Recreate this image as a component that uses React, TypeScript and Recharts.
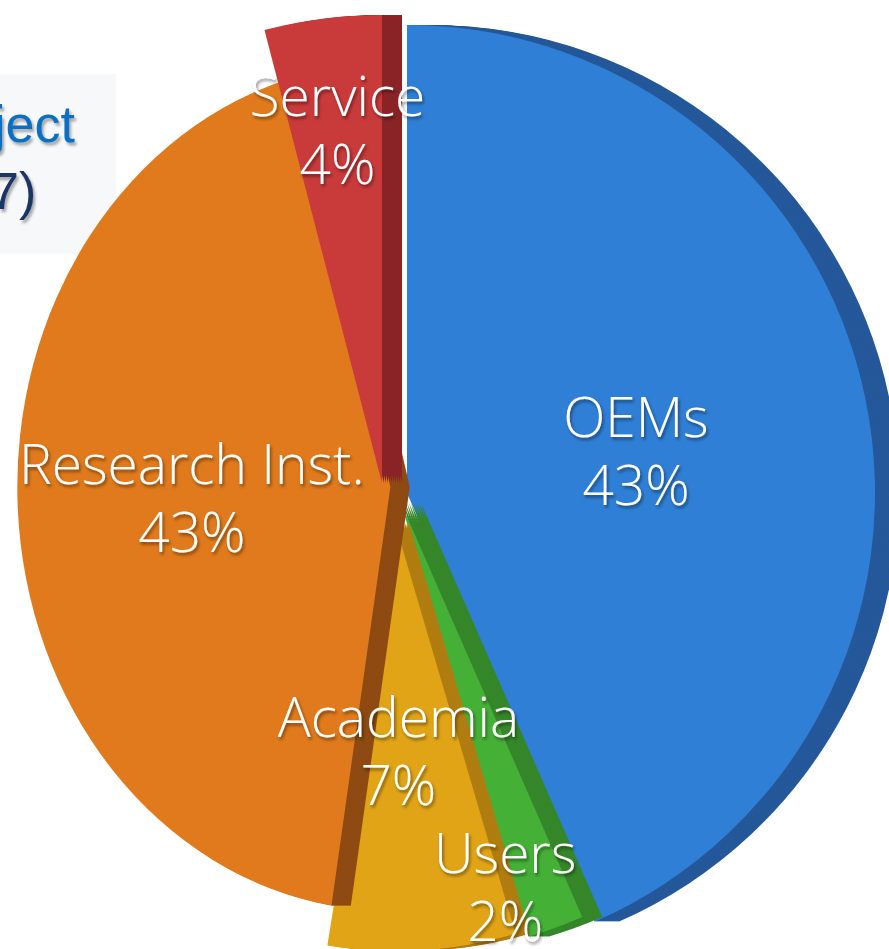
import React from "react";
import { PieChart, Pie, Cell } from "recharts";

const categories = ["OEMs", "Users", "Academia", "Research Inst.", "Service"];
const values = [43, 2, 7, 43, 4];
const percentLabels = ["43%", "2%", "7%", "43%", "4%"];
const faceColors = ["#2f7fd6", "#45b036", "#e0a416", "#e07a1c", "#c93a3a"];
const sideColors = ["#24589a", "#35872a", "#b07d10", "#8e4a12", "#8a2326"];

const data = categories.map((name, i) => ({ name, value: values[i], pct: percentLabels[i] }));

const W = 889;
const H = 949;
const PAD = 120;

// per-slice exploded geometry (centre, radius, horizontal squeeze, side depth)
const layout = [
  { cx: 402, cy: 488, r: 468, sx: 1, depth: 24 },
  { cx: 396, cy: 498, r: 452, sx: 1, depth: 20 },
  { cx: 390, cy: 518, r: 428, sx: 1, depth: 14 },
  { cx: 386, cy: 482, r: 424, sx: 0.88, depth: 22 },
  { cx: 377, cy: 478, r: 468, sx: 1, depth: 20 },
];
// label placement relative to the label pie (radial fraction, angle tweak, nudge)
const labelPos = [
  { lf: 0.54, la: -2.8, dx: -4, dy: -7 },
  { lf: 0.922, la: -4.6, dx: -5, dy: -10 },
  { lf: 0.584, la: -2.9, dx: -5, dy: -8 },
  { lf: 0.452, la: 0, dx: -5, dy: -8 },
  { lf: 0.808, la: 2.0, dx: -4, dy: -8 },
];

const RAD = Math.PI / 180;
const FONT = "'Open Sans', 'Liberation Sans', sans-serif";

const renderLabel = (props: any) => {
  const i = props.index;
  const p = labelPos[i];
  const ang = (props.midAngle + p.la) * RAD;
  const rr = props.outerRadius * p.lf;
  const x = props.cx + rr * Math.cos(ang) + p.dx;
  const y = props.cy - rr * Math.sin(ang) + p.dy;
  const d = data[i];
  return (
    <g key={"lbl" + i} filter="url(#txtShadow)">
      <text x={x} y={y - 34} textAnchor="middle" dominantBaseline="central" fill="#ffffff"
        fontFamily={FONT} fontWeight={300} fontSize={55}>
        {d.name}
      </text>
      <text x={x} y={y + 34} textAnchor="middle" dominantBaseline="central" fill="#ffffff"
        fontFamily={FONT} fontWeight={300} fontSize={55}>
        {d.pct}
      </text>
    </g>
  );
};

function SliceLayer({ s }: { s: number }) {
  const g = layout[s];
  const steps: number[] = [];
  for (let d = g.depth; d > 0; d -= 2) steps.push(d);
  return (
    <div style={{ position: "absolute", left: -PAD, top: 0, transform: `scale(${g.sx}, 1)`, transformOrigin: `${g.cx + PAD}px ${g.cy}px` }}>
      <PieChart width={W + 2 * PAD} height={H}>
        {steps.map((d) => (
          <Pie key={"side" + d} data={data} dataKey="value" nameKey="name"
            cx={g.cx + PAD + d} cy={g.cy} outerRadius={g.r}
            startAngle={90} endAngle={-270} stroke="none" isAnimationActive={false} labelLine={false}>
            {data.map((_, i) => (
              <Cell key={i} fill={i === s ? sideColors[s] : "transparent"} stroke="none" />
            ))}
          </Pie>
        ))}
        <Pie data={data} dataKey="value" nameKey="name"
          cx={g.cx + PAD} cy={g.cy} outerRadius={g.r}
          startAngle={90} endAngle={-270} stroke="none" isAnimationActive={false} labelLine={false}>
          {data.map((_, i) => (
            <Cell key={i} fill={i === s ? faceColors[s] : "transparent"} stroke="none" />
          ))}
        </Pie>
      </PieChart>
    </div>
  );
}

export default function App() {
  const order = [0, 1, 2, 3, 4];
  return (
    <div style={{ position: "absolute", left: 0, top: 0, width: W, height: H, overflow: "hidden", background: "#ffffff" }}>
      <svg width={0} height={0} style={{ position: "absolute" }}>
        <defs>
          <filter id="txtShadow" x="-20%" y="-20%" width="140%" height="140%">
            <feDropShadow dx="1.5" dy="2.5" stdDeviation="1.5" floodColor="#000000" floodOpacity="0.45" />
          </filter>
        </defs>
      </svg>
      <div style={{ position: "absolute", left: 0, top: 74, width: 116, height: 180, background: "#f7f8fa" }} />
      <div style={{ position: "absolute", left: -6, top: 94, fontFamily: "'Liberation Sans', Arial, sans-serif", fontSize: 52, color: "#0b6fc4", textShadow: "2px 3px 3px rgba(0,0,0,0.35)", lineHeight: "60px" }}>
        ject
      </div>
      <div style={{ position: "absolute", left: -10, top: 161, fontFamily: "'Liberation Sans', Arial, sans-serif", fontSize: 52, color: "#1b3566", textShadow: "2px 3px 3px rgba(0,0,0,0.35)", lineHeight: "60px" }}>
        7)
      </div>
      {order.map((s) => (
        <SliceLayer key={s} s={s} />
      ))}
      <div style={{ position: "absolute", left: 0, top: 0 }}>
        <PieChart width={W} height={H}>
          <Pie data={data} dataKey="value" nameKey="name" cx={395} cy={490} outerRadius={450}
            startAngle={90} endAngle={-270} stroke="none" fill="transparent"
            isAnimationActive={false} labelLine={false} label={renderLabel}>
            {data.map((_, i) => (
              <Cell key={i} fill="transparent" stroke="none" />
            ))}
          </Pie>
        </PieChart>
      </div>
    </div>
  );
}
